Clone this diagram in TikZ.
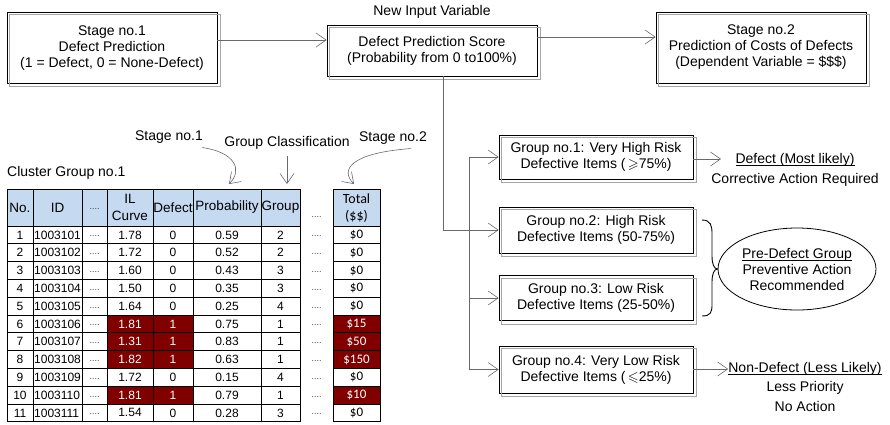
\documentclass[tikz,border=0pt]{standalone}
\usepackage{amssymb}
\usepackage{fontspec}
\setmainfont{Liberation Sans}
\newfontfamily\calib{Carlito}
\usetikzlibrary{arrows.meta,shapes.geometric}
\definecolor{maroonc}{RGB}{128,0,0}
\definecolor{headblue}{RGB}{197,217,241}
\definecolor{shadowgray}{RGB}{165,165,165}
\definecolor{linegray}{RGB}{105,105,105}
\newcommand\myshadow[1]{\draw[shadowgray,line width=0.8pt] ([shift={(3,3)}]#1.north west) rectangle ([shift={(3,3)}]#1.south east);}
\newcommand\myul[1]{\underline{\smash{#1}}\vphantom{#1}}
\begin{document}
\begin{tikzpicture}[x=1pt,y=-1pt,
  bx/.style={draw=black,line width=0.8pt,inner sep=0pt,align=center,font=\fontsize{14}{16}\selectfont},
  arr/.style={draw=linegray,line width=0.6pt,-{Straight Barb[length=10pt,width=14pt,line width=0.6pt]}},
  ln/.style={draw=linegray,line width=0.6pt},
  brc/.style={draw=black,line width=0.9pt},
  lbl/.style={font=\fontsize{14}{16}\selectfont,inner sep=0pt,align=center},
  hd/.style={font=\fontsize{13.5}{16}\selectfont,inner sep=0pt,align=center},
  cell/.style={font=\fontsize{12}{14}\selectfont,inner sep=0pt},
  dots/.style={font=\fontsize{9}{10}\selectfont,inner sep=0pt,text=black!75},
  tot/.style={font=\calib\fontsize{13}{15}\selectfont,inner sep=0pt,align=center},
  grid/.style={draw=black,line width=0.7pt},
]
\useasboundingbox (0,0) rectangle (890,424);

% ---------- top boxes ----------
\node[bx,minimum width=210pt,minimum height=71pt] (b1) at (112,47.7)
  {Stage no.1\\Defect Prediction\\(1 = Defect, 0 = None-Defect)};
\node[bx,minimum width=210pt,minimum height=51pt] (b2) at (432,50.5)
  {Defect Prediction Score\\(Probability from 0 to100\%)};
\node[bx,minimum width=210pt,minimum height=71pt] (b3) at (761,47.5)
  {Stage no.2\\Prediction of Costs of Defects\\(Dependent Variable = \$\$\$)};
\node[lbl] (niv) at (432,12) {New Input Variable};
\myshadow{b1}\myshadow{b2}\myshadow{b3}

\coordinate (ya) at (0,40);
\coordinate (yb) at (0,37);
\draw[arr] (b1.east |- ya) -- (b2.west |- ya);
\draw[arr] (b2.east |- yb) -- (b3.west |- yb);

% ---------- group boxes ----------
\node[bx,minimum width=194pt,minimum height=44pt] (g1) at (596,157)
  {Group no.1: Very High Risk\\Defective Items (\,$\geqslant$75\%)};
\node[bx,minimum width=194pt,minimum height=46pt] (g2) at (596,230)
  {Group no.2: High Risk\\Defective Items (50-75\%)};
\node[bx,minimum width=194pt,minimum height=45pt] (g3) at (596,298)
  {Group no.3: Low Risk\\Defective Items (25-50\%)};
\node[bx,minimum width=194pt,minimum height=47pt] (g4) at (596,369.5)
  {Group no.4: Very Low Risk\\Defective Items (\,$\leqslant$25\%)};
\myshadow{g1}\myshadow{g2}\myshadow{g3}\myshadow{g4}

\draw[arr] ([xshift=11pt]b2.south) |- (g2.west);
\coordinate (bx) at (469,0);
\draw[ln] (g1.west -| bx) -- (g4.west -| bx);
\draw[arr] (g1.west -| bx) -- (g1.west);
\draw[arr] (g3.west -| bx) -- (g3.west);
\draw[arr] (g4.west -| bx) -- (g4.west);

% ---------- outcome texts ----------
\node[lbl] (d1) at (795,160) {\myul{Defect (Most likely)}};
\node[lbl] (d1b) at (795,180) {Corrective Action Required};
\coordinate (d1tip) at (721,159);
\draw[arr] (g1.east |- d1tip) -- (d1tip);

\node[lbl] (n4) at (805,369) {\myul{Non-Defect (Less Likely)}};
\node[lbl] (n4b) at (805,388) {Less Priority};
\node[lbl] (n4c) at (805,406) {No Action};
\draw[arr] (g4.east |- n4) -- (n4.west);

\node[draw,ellipse,line width=0.8pt,minimum width=158pt,minimum height=82pt,inner sep=0pt,
  align=center,font=\fontsize{14}{16}\selectfont] (pd) at (797,269)
  {\myul{Pre-Defect Group}\\Preventive Action\\Recommended};
\draw[brc] (702,220) .. controls (711,220) and (712,226) .. (712,234) -- (712,256)
  .. controls (712,264) and (714,269) .. (pd.west)
  .. controls (714,269) and (712,274) .. (712,282) -- (712,304)
  .. controls (712,312) and (711,316) .. (702,316);

% ---------- table labels ----------
\node[lbl,anchor=west] (cg) at (7,173) {Cluster Group no.1};
\node[lbl] (s1lab) at (169,137) {Stage no.1};
\node[lbl] (gclab) at (287,143) {Group Classification};
\node[lbl] (s2lab) at (393,138) {Stage no.2};
\coordinate (p1tip) at (229,184);
\coordinate (p2tip) at (287,184);
\coordinate (p3tip) at (354,184);
\draw[arr] ([xshift=-1pt,yshift=-4pt]s1lab.south east) .. controls (235,152) and (243,170) .. (p1tip);
\draw[arr] ([yshift=-6pt]gclab.south) -- (p2tip);
\draw[arr] ([xshift=-16pt,yshift=-4pt]s2lab.south east) .. controls (350,153) and (340,170) .. (p3tip);

% ---------- table ----------
\fill[headblue] (7,189) rectangle (300,226);
\fill[headblue] (333,189) rectangle (380,226);
\foreach \rn in {6,7,8,10}{
  \pgfmathsetmacro\ya{226+(\rn-1)*17.8}
  \pgfmathsetmacro\yb{226+\rn*17.8}
  \fill[maroonc] (107,\ya) rectangle (193,\yb);
  \fill[maroonc] (333,\ya) rectangle (380,\yb);
}
\draw[grid] (7,189) -- (300,189);
\draw[grid] (333,189) -- (380,189);
\foreach \k in {0,...,11}{
  \pgfmathsetmacro\yy{226+\k*17.8}
  \draw[grid] (7,\yy) -- (300,\yy);
  \draw[grid] (333,\yy) -- (380,\yy);
}
\foreach \xx in {7,33,82,107,153,193,261,300,333,380}{
  \draw[grid] (\xx,189) -- (\xx,421.8);
}
% header
\node[hd] (hno) at (20,207.5) {No.};
\node[hd] (hid) at (57.5,207.5) {ID};
\node[dots] (hdt) at (94.5,209) {....};
\node[hd,font=\fontsize{13.5}{17}\selectfont] (hil) at (130,207.5) {IL\\Curve};
\node[hd] (hdf) at (173,207.5) {Defect};
\node[hd] (hpr) at (227,207.5) {Probability};
\node[hd] (hgr) at (280.5,207.5) {Group};
\node[dots] (hgd) at (316.5,217) {....};
\node[tot,font=\calib\fontsize{14}{17}\selectfont] (htot) at (356.5,208) {Total\\(\$\$)};
% rows
\foreach \rn/\id/\il/\df/\pr/\gr/\cost/\rd in {
  1/1003101/1.78/0/0.59/2/\$0/0,
  2/1003102/1.72/0/0.52/2/\$0/0,
  3/1003103/1.60/0/0.43/3/\$0/0,
  4/1003104/1.50/0/0.35/3/\$0/0,
  5/1003105/1.64/0/0.25/4/\$0/0,
  6/1003106/1.81/1/0.75/1/\$15/1,
  7/1003107/1.31/1/0.83/1/\$50/1,
  8/1003108/1.82/1/0.63/1/\$150/1,
  9/1003109/1.72/0/0.15/4/\$0/0,
  10/1003110/1.81/1/0.79/1/\$10/1,
  11/1003111/1.54/0/0.28/3/\$0/0}{
  \pgfmathsetmacro\yc{226+(\rn-0.5)*17.8}
  \ifnum\rd=1 \def\tc{white}\else\def\tc{black}\fi
  \node[cell] (no\rn) at (20,\yc) {\rn};
  \node[cell,anchor=west] (id\rn) at (34,\yc) {\id};
  \node[dots] (dt\rn) at (94.5,\yc+1.5) {....};
  \node[cell,text=\tc] (il\rn) at (130,\yc) {\il};
  \node[cell,text=\tc] (df\rn) at (173,\yc) {\df};
  \node[cell] (pr\rn) at (227,\yc) {\pr};
  \node[cell] (gr\rn) at (280.5,\yc) {\gr};
  \node[dots] (gd\rn) at (316.5,\yc+1.5) {....};
  \node[tot,text=\tc] (tc\rn) at (356.5,\yc) {\cost};
}
\end{tikzpicture}
\end{document}
